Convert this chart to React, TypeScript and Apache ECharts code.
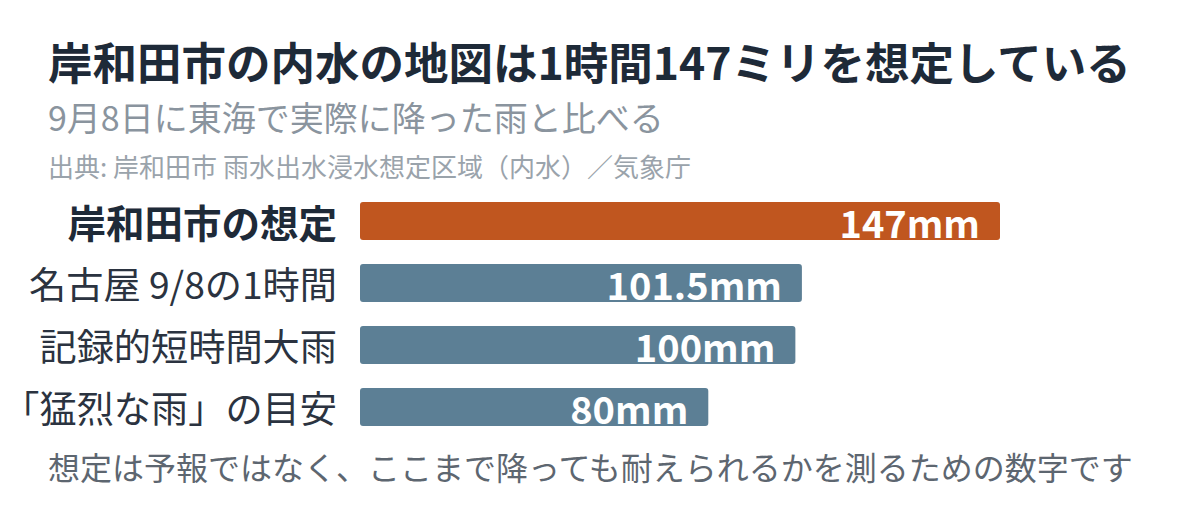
import * as echarts from 'echarts';
import { useEffect, useRef } from 'react';

const categories = ['岸和田市の想定', '名古屋 9/8の1時間', '記録的短時間大雨', '「猛烈な雨」の目安'];
const values = [147, 101.5, 100, 80];
const barColors = ['#c0561f', '#5c7f95', '#5c7f95', '#5c7f95'];

const title = '岸和田市の内水の地図は1時間147ミリを想定している';
const subtitle = '9月8日に東海で実際に降った雨と比べる';
const source = '出典: 岸和田市 雨水出水浸水想定区域（内水）／気象庁';
const footnote = '想定は予報ではなく、ここまで降っても耐えられるかを測るための数字です';

const FONT = '"Noto Sans CJK JP", "Noto Sans", sans-serif';

export default function App() {
  const elRef = useRef<HTMLDivElement | null>(null);

  useEffect(() => {
    if (!elRef.current) return;
    const chart = echarts.init(elRef.current, undefined, { renderer: 'svg' });

    chart.setOption({
      animation: false,
      backgroundColor: '#ffffff',
      textStyle: { fontFamily: FONT },
      grid: { left: 360, right: 200, top: 190, bottom: 76, containLabel: false, outerBoundsMode: 'none' },
      xAxis: {
        type: 'value',
        min: 0,
        max: 147,
        show: false,
      },
      yAxis: {
        type: 'category',
        inverse: true,
        data: categories,
        axisLine: { show: false },
        axisTick: { show: false },
        axisLabel: {
          margin: 23,
          fontSize: 37.2,
          color: '#2b3340',
          fontFamily: FONT,
          formatter: (v: string, i: number) => (i === 0 ? `{b|${v}}` : v),
          rich: {
            b: { fontSize: 38.5, fontWeight: 'bold', color: '#1e2a38', fontFamily: FONT },
          },
        },
      },
      series: [
        {
          type: 'bar',
          barWidth: 38,
          data: values.map((v, i) => ({
            value: v,
            itemStyle: { color: barColors[i], borderRadius: 3 },
          })),
          label: {
            show: true,
            position: 'insideRight',
            distance: 20,
            color: '#ffffff',
            fontSize: 38,
            fontWeight: 'bold',
            fontFamily: FONT,
            formatter: (p: any) => `${p.value}mm`,
          },
        },
      ],
      graphic: [
        {
          type: 'text',
          x: 48,
          y: 60,
          style: { text: title, font: `bold 44.5px ${FONT}`, fill: '#1e2a38', verticalAlign: 'middle' },
        },
        {
          type: 'text',
          x: 48,
          y: 116,
          style: { text: subtitle, font: `34px ${FONT}`, fill: '#8a949e', verticalAlign: 'middle' },
        },
        {
          type: 'text',
          x: 48,
          y: 165,
          style: { text: source, font: `26px ${FONT}`, fill: '#9aa3ab', verticalAlign: 'middle' },
        },
        {
          type: 'text',
          x: 48,
          y: 466,
          style: { text: footnote, font: `32px ${FONT}`, fill: '#5d6670', verticalAlign: 'middle' },
        },
      ],
    });

    return () => chart.dispose();
  }, []);

  return (
    <div
      ref={elRef}
      style={{ position: 'fixed', left: 0, top: 0, width: 1200, height: 514 }}
    />
  );
}
